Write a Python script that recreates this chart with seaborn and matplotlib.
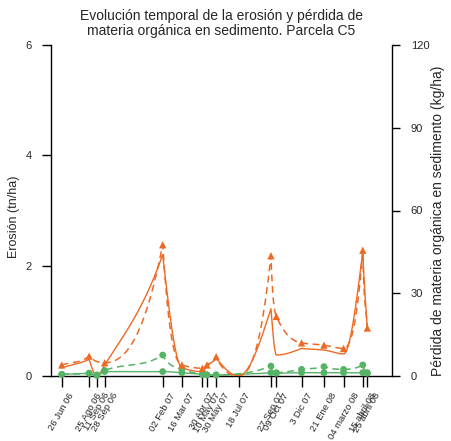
import numpy as np
import pandas as pd
import matplotlib
matplotlib.use("Agg")
import matplotlib.pyplot as plt
import matplotlib.dates as mdates
import seaborn as sns

# Sampling dates and their axis labels
fechas = ["2006-06-26", "2006-08-25", "2006-09-11", "2006-09-28", "2007-02-02",
          "2007-03-16", "2007-04-30", "2007-05-10", "2007-05-30", "2007-07-18",
          "2007-09-27", "2007-10-09", "2007-12-03", "2008-01-21", "2008-03-04",
          "2008-04-15", "2008-04-25"]
etiquetas = ["26 Jun 06", "25 Ago 06", "11 Sep 06", "28 Sep 06", "02 Feb 07",
             "16 Mar 07", "30 Abr 07", "10 May 07", "30 May 07", "18 Jul 07",
             "27 Sep 07", "09 Oct 07", "3 Dic 07", "21 Ene 08", "04 marzo 08",
             "15 abril 08", "25 abril 08"]

# Erosion (tn/ha), left axis
erosion_a = [0.15, 0.30, 0.0, 0.20, 2.20, 0.15, 0.08, 0.18, 0.32, 0.0,
             1.22, 0.38, 0.50, 0.47, 0.40, 2.25, 0.85]
erosion_b = [0.03, 0.05, 0.01, 0.08, 0.08, 0.06, 0.03, 0.02, 0.02, np.nan,
             0.06, 0.05, 0.06, 0.06, 0.06, 0.06, 0.05]

# Organic matter lost in sediment (kg/ha), right axis
mo_a = [4.0, 7.2, np.nan, 4.8, 47.6, 4.0, 2.8, 4.0, 7.0, 0.0,
        43.6, 21.6, 12.0, 11.2, 10.0, 45.6, 17.4]
mo_b = [0.6, 1.0, 0.4, 2.0, 7.6, 2.4, 0.6, 0.4, 0.4, np.nan,
        3.6, 1.2, 2.4, 3.4, 2.4, 4.0, 1.2]

NARANJA = "#EE6A24"
VERDE = "#55B366"


def curva_suave(x, y, k=2.0, n=60):
    """Piecewise cubic Hermite curve through the points: zero slope at
    minima, sharpened slopes at maxima, monotone slopes elsewhere."""
    x = np.asarray(x, float)
    y = np.asarray(y, float)
    ok = ~np.isnan(y)
    x, y = x[ok], y[ok]
    N = len(x)
    h = np.diff(x)
    d = np.diff(y) / h
    sl = np.zeros(N)
    sr = np.zeros(N)
    for i in range(N):
        if i == 0:
            sl[i] = sr[i] = d[0]
        elif i == N - 1:
            sl[i] = sr[i] = d[-1]
        else:
            a, b = d[i - 1], d[i]
            if a > 0 and b < 0:
                sl[i], sr[i] = k * a, k * b
            elif a * b <= 0:
                sl[i] = sr[i] = 0.0
            else:
                w1 = 2 * h[i] + h[i - 1]
                w2 = h[i] + 2 * h[i - 1]
                sl[i] = sr[i] = (w1 + w2) / (w1 / a + w2 / b)
    xs, ys = [], []
    for j in range(N - 1):
        m0, m1 = sr[j], sl[j + 1]
        if d[j] == 0:
            m0 = m1 = 0.0
        else:
            al, be = max(m0 / d[j], 0), max(m1 / d[j], 0)
            r = np.hypot(al, be)
            if r > 3:
                al, be = al * 3 / r, be * 3 / r
            m0, m1 = al * d[j], be * d[j]
        s = np.linspace(0, 1, n)
        h00 = 2 * s**3 - 3 * s**2 + 1
        h10 = s**3 - 2 * s**2 + s
        h01 = -2 * s**3 + 3 * s**2
        h11 = s**3 - s**2
        xs.append(x[j] + s * h[j])
        ys.append(h00 * y[j] + h10 * h[j] * m0 + h01 * y[j + 1] + h11 * h[j] * m1)
    return np.concatenate(xs), np.concatenate(ys)


sns.set_style("ticks")
plt.rcParams["font.family"] = ["Liberation Sans", "DejaVu Sans"]

xnum = mdates.date2num(pd.to_datetime(fechas))
df = pd.DataFrame({"x": xnum, "erosion_a": erosion_a, "erosion_b": erosion_b,
                   "mo_a": mo_a, "mo_b": mo_b})

fig = plt.figure(figsize=(4.51, 4.41), dpi=100)
ax = fig.add_axes([51 / 451, 65 / 441, 341 / 451, 331 / 441])
ax2 = ax.twinx()

# Erosion curves (left axis)
cx, cy = curva_suave(xnum, erosion_b, k=1.5)
ax.plot(cx, cy, color=VERDE, lw=1.0, zorder=2)
sns.scatterplot(data=df[df["erosion_b"] > 0], x="x", y="erosion_b", ax=ax,
                color=VERDE, marker="o", s=24, edgecolor="none", zorder=3,
                clip_on=False)
cx, cy = curva_suave(xnum, erosion_a, k=1.5)
ax.plot(cx, cy, color=NARANJA, lw=1.0, zorder=4)

# Organic matter curves (right axis)
cx, cy = curva_suave(xnum, mo_b, k=2.5)
ax2.plot(cx, cy, color=VERDE, lw=1.1, dashes=(4.5, 3), zorder=2)
sns.scatterplot(data=df[df["mo_b"] > 0], x="x", y="mo_b", ax=ax2,
                color=VERDE, marker="o", s=24, edgecolor="none", zorder=3,
                clip_on=False)
cx, cy = curva_suave(xnum, mo_a, k=2.5)
ax2.plot(cx, cy, color=NARANJA, lw=1.1, dashes=(4.5, 3), zorder=4)
sns.scatterplot(data=df[df["mo_a"] > 0], x="x", y="mo_a", ax=ax2,
                color=NARANJA, marker="^", s=28, edgecolor="none", zorder=5,
                clip_on=False)

ax.set_xlim(mdates.date2num(pd.Timestamp("2006-06-02 12:00")),
            mdates.date2num(pd.Timestamp("2008-06-18")))
ax.set_ylim(0, 6)
ax2.set_ylim(0, 120)
ax.set_yticks([0, 2, 4, 6])
ax2.set_yticks([0, 30, 60, 90, 120])

ax.set_xticks(xnum)
ax.set_xticklabels(etiquetas, rotation=60, ha="center", va="top", fontsize=6.8)
ax.tick_params(axis="x", length=8, width=1, pad=3, color="black")
ax.tick_params(axis="y", length=6.5, width=1, pad=7.5, labelsize=8, color="black")
ax2.tick_params(axis="y", length=6, width=1, pad=7.5, labelsize=8, color="black")

for a in (ax, ax2):
    a.spines["top"].set_visible(False)
    for sp in a.spines.values():
        sp.set_color("black")
        sp.set_linewidth(1.0)
ax.spines["right"].set_visible(False)
ax2.spines["left"].set_visible(False)
ax2.spines["bottom"].set_visible(False)

ax.set_xlabel("")
ax2.set_xlabel("")
ax.set_ylabel("Erosión (tn/ha)", fontsize=9)
ax.yaxis.set_label_coords(-0.09, 0.48)
ax2.set_ylabel("Pérdida de materia orgánica en sedimento (kg/ha)", fontsize=10)
ax2.yaxis.set_label_coords(1.115, 0.47)

ax.set_title("Evolución temporal de la erosión y pérdida de\n"
             "materia orgánica en sedimento. Parcela C5",
             fontsize=10, pad=7, linespacing=1.15)

fig.savefig("out.png", dpi=100)
